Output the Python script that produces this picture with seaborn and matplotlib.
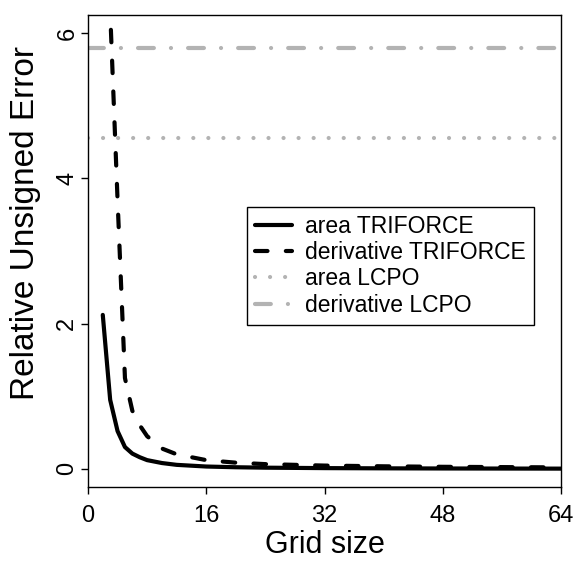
import numpy as np
import pandas as pd
import seaborn as sns
import matplotlib.pyplot as plt

# Data
grid_size = [2, 3, 4, 5, 6, 7, 8, 10, 12, 16, 20, 24, 32, 40, 48, 56, 64]
area_triforce = [2.12, 0.95, 0.52, 0.30, 0.21, 0.16, 0.12, 0.08, 0.055, 0.032,
                 0.022, 0.016, 0.010, 0.007, 0.005, 0.004, 0.003]
deriv_triforce = [25.0, 6.3, 3.7, 1.25, 0.80, 0.60, 0.45, 0.28, 0.20, 0.12,
                  0.085, 0.065, 0.045, 0.035, 0.028, 0.024, 0.02]
area_lcpo = 4.55
deriv_lcpo = 5.80

x_ticks = [0, 16, 32, 48, 64]
y_ticks = [0, 2, 4, 6]

sns.set_style("white")
plt.rcParams["font.family"] = ["Liberation Sans", "DejaVu Sans"]
plt.rcParams["text.color"] = "black"
plt.rcParams["axes.labelcolor"] = "black"

df = pd.DataFrame({"grid": grid_size, "area": area_triforce, "deriv": deriv_triforce})

fig = plt.figure(figsize=(5.75, 5.62), dpi=100)
ax = fig.add_axes([88 / 575, 1 - 487 / 562, (561 - 88) / 575, (487 - 15) / 562])

gray = "#b3b3b3"
# LCPO reference lines
h_area_lcpo = ax.axhline(area_lcpo, color=gray, lw=3, linestyle=(0, (0.01, 3.6)),
                         dash_capstyle="round", label="area LCPO", zorder=1)
h_deriv_lcpo = ax.axhline(deriv_lcpo, color=gray, lw=3,
                          linestyle=(0, (3.8, 4.1, 0.01, 4.1)),
                          dash_capstyle="round", label="derivative LCPO", zorder=1)

# TRIFORCE curves
sns.lineplot(data=df, x="grid", y="area", ax=ax, color="black", lw=3,
             solid_capstyle="round", label="area TRIFORCE", zorder=3)
sns.lineplot(data=df, x="grid", y="deriv", ax=ax, color="black", lw=3,
             linestyle=(0, (3.0, 4.4)), dash_capstyle="round",
             label="derivative TRIFORCE", zorder=3)

ax.set_xlim(0, 64)
ax.set_ylim(-0.25, 6.25)
ax.set_xticks(x_ticks)
ax.set_yticks(y_ticks)
ax.set_yticklabels([str(v) for v in y_ticks], rotation=90, va="center")

for s in ax.spines.values():
    s.set_color("black")
    s.set_linewidth(1.0)
ax.tick_params(direction="out", length=5, width=1, labelsize=17,
               bottom=True, left=True, colors="black")
ax.tick_params(axis="x", pad=8)
ax.tick_params(axis="y", pad=2)

ax.set_xlabel("Grid size", fontsize=22, labelpad=2)
ax.set_ylabel("Relative Unsigned Error", fontsize=24)
ax.yaxis.set_label_coords(-0.10, 0.56)

lines = ax.get_lines()
handles = [l for l in lines if l.get_label() == "area TRIFORCE"] + \
          [l for l in lines if l.get_label() == "derivative TRIFORCE"] + \
          [h_area_lcpo, h_deriv_lcpo]
leg = ax.legend(handles=handles, labels=[h.get_label() for h in handles],
                loc="upper left", bbox_to_anchor=(247 / 575, 1 - 207 / 562),
                bbox_transform=fig.transFigure, fontsize=16.5, frameon=True,
                fancybox=False, framealpha=1, edgecolor="black",
                handlelength=1.6, handletextpad=0.6, labelspacing=0.14,
                borderpad=0.35, borderaxespad=0)
leg.get_frame().set_linewidth(1.0)

fig.savefig("out.png", dpi=100)
